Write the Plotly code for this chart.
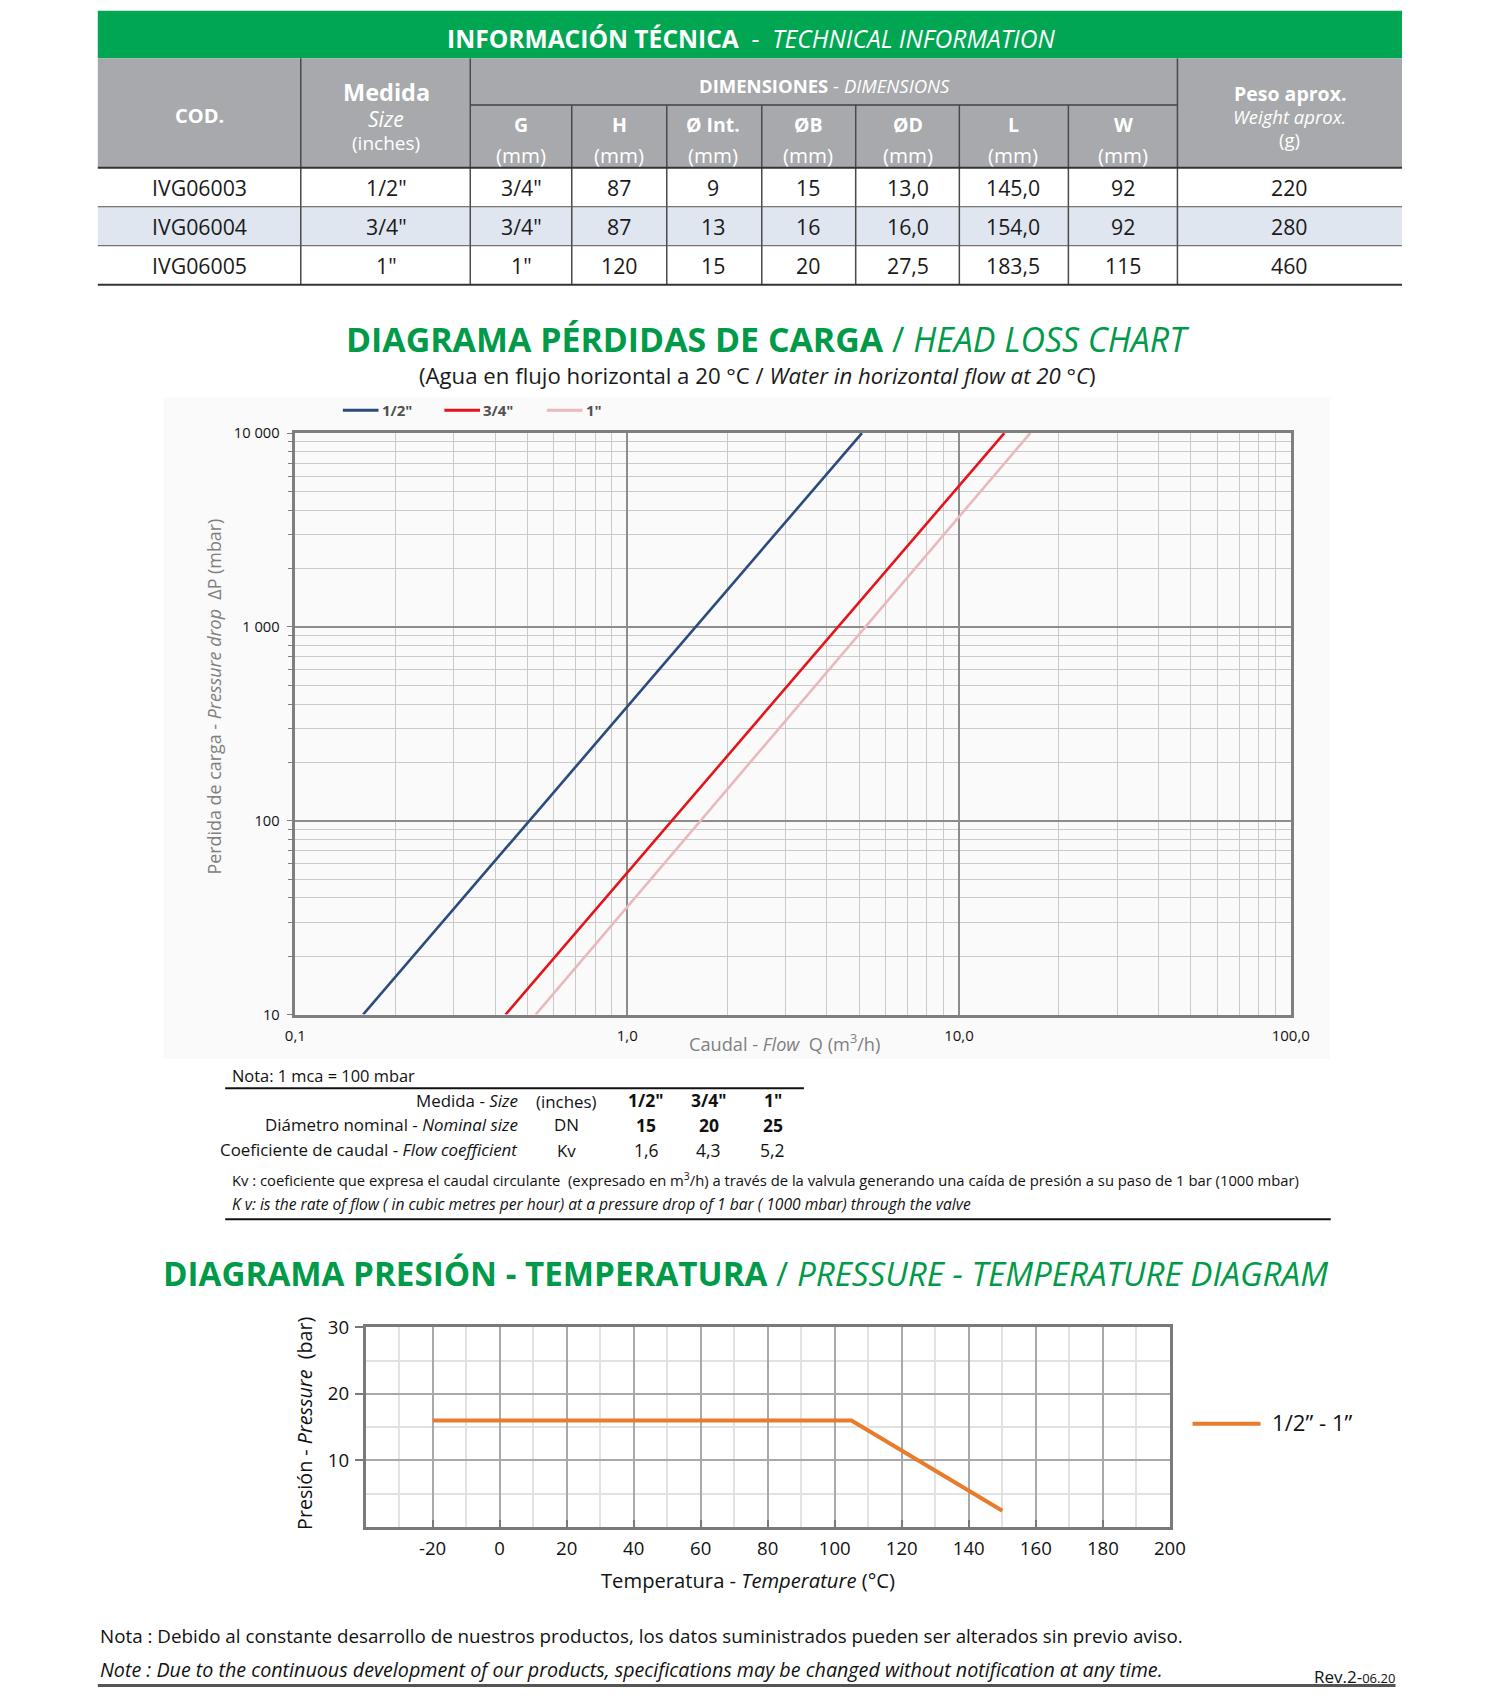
import plotly.graph_objects as go

# ---------------- data ----------------
codes = ["IVG06003", "IVG06004", "IVG06005"]
sizes = ['1/2"', '3/4"', '1"']
dim_G = ['3/4"', '3/4"', '1"']
dim_H = ["87", "87", "120"]
dim_int = ["9", "13", "15"]
dim_B = ["15", "16", "20"]
dim_D = ["13,0", "16,0", "27,5"]
dim_L = ["145,0", "154,0", "183,5"]
dim_W = ["92", "92", "115"]
weight_g = ["220", "280", "460"]

series_names = ['1/2"', '3/4"', '1"']
flow_12 = [0.16, 5.1]
flow_34 = [0.43, 13.7]
flow_1 = [0.53, 16.4]
dp_mbar = [10, 10000]

kv_sizes = ['1/2"', '3/4"', '1"']
kv_dn = ["15", "20", "25"]
kv_values = ["1,6", "4,3", "5,2"]

temp_c = [-20, 105, 150]
pressure_bar = [16, 16, 2.4]
temp_ticks = list(range(-20, 201, 20))
temp_tick_text = [str(t) for t in temp_ticks]

# ---------------- layout helpers ----------------
W, H = 1497, 1696


def X(x):
    return (x - 8.6) / 1358.8


def Y(y):
    return 1 - (y - 12.1) / 1545.9


FONT = "Open Sans"
GREEN = "#00a651"
GREEN_T = "#009a49"
GRAY_H = "#a7a9ac"

annotations = []
shapes = []


def ann(x, y, text, size, color="#222222", xanchor="center", yanchor="middle",
        angle=0, family=FONT):
    annotations.append(dict(
        x=X(x), y=Y(y), xref="paper", yref="paper", text=text, showarrow=False,
        xanchor=xanchor, yanchor=yanchor, textangle=angle,
        font=dict(size=size, color=color, family=family)))


def rect(x0, y0, x1, y1, fill, layer="below"):
    shapes.append(dict(type="rect", xref="paper", yref="paper",
                       x0=X(x0), x1=X(x1), y0=Y(y1), y1=Y(y0),
                       fillcolor=fill, line=dict(width=0), layer=layer))


def hline(x0, x1, y, color, width):
    shapes.append(dict(type="line", xref="paper", yref="paper",
                       x0=X(x0), x1=X(x1), y0=Y(y), y1=Y(y),
                       line=dict(color=color, width=width)))


def vline(x, y0, y1, color, width):
    shapes.append(dict(type="line", xref="paper", yref="paper",
                       x0=X(x), x1=X(x), y0=Y(y0), y1=Y(y1),
                       line=dict(color=color, width=width)))


# ---------------- technical table ----------------
rect(89, 10, 1297, 54, GREEN)
rect(89, 54, 1297, 155, GRAY_H)
rect(89, 191, 1297, 227, "#dfe6ef")

ann(694, 36, "<b>INFORMACIÓN TÉCNICA</b>  -  <i>TECHNICAL INFORMATION</i>", 24.6, "white")

col_x = [183, 356, 481, 572, 659, 747, 839, 937, 1039, 1193]
ann(183, 107, "<b>COD.</b>", 20, "white")
ann(356, 85, "<b>Medida</b>", 23.5, "white")
ann(356, 110, "<i>Size</i>", 21, "white")
ann(356, 132, "(inches)", 19, "white")
ann(762, 79, "<b>DIMENSIONES</b> - <i>DIMENSIONS</i>", 18.5, "white")
letters = ["G", "H", "Ø Int.", "ØB", "ØD", "L", "W"]
for cx, lt in zip(col_x[2:9], letters):
    ann(cx, 115, "<b>%s</b>" % lt, 19.5, "white")
    ann(cx, 143, "(mm)", 20.5, "white")
ann(1193, 86, "<b>Peso aprox.</b>", 19.5, "white")
ann(1193, 108, "<i>Weight aprox.</i>", 18.5, "white")
ann(1193, 129, "(g)", 18.5, "white")

row_y = [173, 209, 245]
columns = [codes, sizes, dim_G, dim_H, dim_int, dim_B, dim_D, dim_L, dim_W, weight_g]
for cx, col in zip(col_x, columns):
    for ry, v in zip(row_y, col):
        ann(cx, ry, v, 21.3, "#1a1a1a")

hline(434, 1089, 97, "#5b5b5d", 2)
for vx in [528, 616, 704, 791, 887, 988]:
    vline(vx, 97, 263, "#4a4a4a", 1.5)
for vx in [277, 434, 1089]:
    vline(vx, 54, 263, "#4a4a4a", 1.5)
hline(89, 1297, 155, "#333333", 2)
hline(89, 1297, 191, "#555555", 1)
hline(89, 1297, 227, "#555555", 1)
hline(89, 1297, 263, "#333333", 2)

# ---------------- head loss chart ----------------
ann(709, 313, "<b>DIAGRAMA PÉRDIDAS DE CARGA</b> / <i>HEAD LOSS CHART</i>", 33.9, GREEN_T)
ann(700, 347, "(Agua en flujo horizontal a 20 °C / <i>Water in horizontal flow at 20 °C</i>)",
    22.2, "#1a1a1a")

rect(150, 367, 1230, 978, "#fafafa")

line_colors = ["#2c4a7c", "#e3141c", "#e9b9bd"]
flows = [flow_12, flow_34, flow_1]

fig = go.Figure()
for name, fl, c in zip(series_names, flows, line_colors):
    fig.add_trace(go.Scatter(x=fl, y=dp_mbar, mode="lines", name=name,
                             line=dict(color=c, width=2.6), showlegend=False,
                             xaxis="x", yaxis="y"))

# legend (custom)
leg_x = [316, 410, 505]
for lx, name, c in zip(leg_x, series_names, line_colors):
    shapes.append(dict(type="line", xref="paper", yref="paper",
                       x0=X(lx), x1=X(lx + 33), y0=Y(379), y1=Y(379),
                       line=dict(color=c, width=3)))
    ann(lx + 34, 379, "<b>%s</b>" % name, 15, "#505050", xanchor="left")

ann(725, 963, "Caudal - <i>Flow</i>  Q (m<sup>3</sup>/h)", 18.2, "#808080")
ann(197, 643, "Perdida de carga - <i>Pressure drop</i>  ΔP (mbar)", 17.9, "#808080", angle=-90)

minor_x = [k * 10 ** e for e in (-1, 0, 1) for k in range(2, 10)]
minor_y = [k * 10 ** e for e in (1, 2, 3) for k in range(2, 10)]

# ---------------- Kv table ----------------
ann(211, 993, "Nota: 1 mca = 100 mbar", 16.4, "#111111", xanchor="left")
hline(207, 743, 1005, "#111111", 2)
ann(480, 1016, "Medida - <i>Size</i>", 16.9, "#111111", xanchor="right")
ann(480, 1039, "Diámetro nominal - <i>Nominal size</i>", 16.9, "#111111", xanchor="right")
ann(480, 1062, "Coeficiente de caudal - <i>Flow coefficient</i>", 16.9, "#111111", xanchor="right")
ann(523, 1017, "(inches)", 16.9, "#111111")
ann(523, 1039, "DN", 16.9, "#111111")
ann(523, 1063, "Kv", 16.9, "#111111")
kv_cols = [597, 655, 714]
for cx, s, dn, kv in zip(kv_cols, kv_sizes, kv_dn, kv_values):
    ann(cx, 1016, "<b>%s</b>" % s, 17.5, "#111111")
    ann(cx, 1039, "<b>%s</b>" % dn, 17.5, "#111111")
    ann(cx, 1062, kv, 17.5, "#111111")
ann(211, 1089, "Kv : coeficiente que expresa el caudal circulante  (expresado en m<sup>3</sup>/h) "
    "a través de la valvula generando una caída de presión a su paso de 1 bar (1000 mbar)",
    14.8, "#111111", xanchor="left")
ann(211, 1112, "<i>K v: is the rate of flow ( in cubic metres per hour) at a pressure drop of 1 bar "
    "( 1000 mbar) through the valve</i>", 15.6, "#111111", xanchor="left")
hline(207, 1231, 1126, "#111111", 2)

# ---------------- pressure-temperature chart ----------------
ann(689, 1176, "<b>DIAGRAMA PRESIÓN - TEMPERATURA</b> / <i>PRESSURE - TEMPERATURE DIAGRAM</i>",
    33.2, GREEN_T)

fig.add_trace(go.Scatter(x=temp_c, y=pressure_bar, mode="lines", name='1/2” - 1”',
                         line=dict(color="#e87b2c", width=4), showlegend=False,
                         xaxis="x2", yaxis="y2"))
shapes.append(dict(type="line", xref="paper", yref="paper",
                   x0=X(1103), x1=X(1166), y0=Y(1315), y1=Y(1315),
                   line=dict(color="#e87b2c", width=4)))
ann(1175, 1314, "1/2” - 1”", 22.2, "#111111", xanchor="left")
ann(691, 1459, "Temperatura - <i>Temperature</i> (°C)", 20.2, "#111111")
ann(281, 1315, "Presión - <i>Pressure</i>  (bar)", 19.7, "#111111", angle=-90)

# ---------------- footer ----------------
ann(89, 1511, "Nota : Debido al constante desarrollo de nuestros productos, los datos suministrados "
    "pueden ser alterados sin previo aviso.", 18.8, "#111111", xanchor="left")
ann(89, 1542, "<i>Note : Due to the continuous development of our products, specifications may be "
    "changed without notification at any time.</i>", 19.7, "#111111", xanchor="left")
ann(1292, 1548, "Rev.2-<span style='font-size:13px'>06.20</span>", 17, "#111111", xanchor="right")
hline(89, 1291, 1556.5, "#555555", 3)

fig.update_layout(
    width=W, height=H, margin=dict(l=0, r=0, t=0, b=0),
    paper_bgcolor="white", plot_bgcolor="white", showlegend=False,
    font=dict(family=FONT, color="#111111"),
    xaxis=dict(type="log", range=[-1, 2], domain=[X(272), X(1194)], anchor="y",
               tickmode="array", tickvals=[0.1, 1, 10, 100],
               ticktext=["0,1", "1,0", "10,0", "100,0"],
               showgrid=True, gridcolor="#8c8c8c", gridwidth=1.6,
               minor=dict(tickvals=minor_x, showgrid=True, gridcolor="#cacaca", gridwidth=1),
               showline=True, linecolor="#7f7f7f", linewidth=2.5, mirror=True,
               ticks="", tickfont=dict(size=15, color="#111111"), ticklabelstandoff=6,
               zeroline=False),
    yaxis=dict(type="log", range=[1, 4], domain=[Y(937), Y(400)], anchor="x",
               tickmode="array", tickvals=[10, 100, 1000, 10000],
               ticktext=["10", "100", "1 000", "10 000"],
               showgrid=True, gridcolor="#8c8c8c", gridwidth=1.6,
               minor=dict(tickvals=minor_y, showgrid=True, gridcolor="#cacaca", gridwidth=1,
                          ticks="outside", ticklen=5, tickcolor="#7f7f7f"),
               showline=True, linecolor="#7f7f7f", linewidth=2.5, mirror=True,
               ticks="outside", ticklen=6, tickcolor="#7f7f7f",
               tickfont=dict(size=14.7, color="#111111"), ticklabelstandoff=4,
               zeroline=False),
    xaxis2=dict(range=[-40, 200], domain=[X(337), X(1082)], anchor="y2",
                tickmode="array", tickvals=temp_ticks, ticktext=temp_tick_text,
                showgrid=True, gridcolor="#a9a9a9", gridwidth=1.5,
                minor=dict(dtick=10, tick0=0, showgrid=True, gridcolor="#e2e2e2", gridwidth=1.5),
                showline=True, linecolor="#7a7a7a", linewidth=2.5, mirror=True,
                ticks="inside", ticklen=7, tickcolor="#7a7a7a", tickwidth=2,
                tickfont=dict(size=18.6, color="#111111"), ticklabelstandoff=3,
                zeroline=False),
    yaxis2=dict(range=[0, 30], domain=[Y(1410), Y(1226)], anchor="x2",
                tickmode="array", tickvals=[10, 20, 30],
                showgrid=True, gridcolor="#a9a9a9", gridwidth=1.5,
                minor=dict(dtick=5, tick0=0, showgrid=True, gridcolor="#e2e2e2", gridwidth=1.5),
                showline=True, linecolor="#7a7a7a", linewidth=2.5, mirror=True,
                ticks="outside", ticklen=8, tickcolor="#7a7a7a", tickwidth=1.5,
                tickfont=dict(size=18.6, color="#111111"), ticklabelstandoff=2,
                zeroline=False),
    annotations=annotations, shapes=shapes,
)

fig.write_html("out.html", config={"displayModeBar": False},
               post_script="document.body.style.margin='0';document.body.style.overflow='hidden';")
